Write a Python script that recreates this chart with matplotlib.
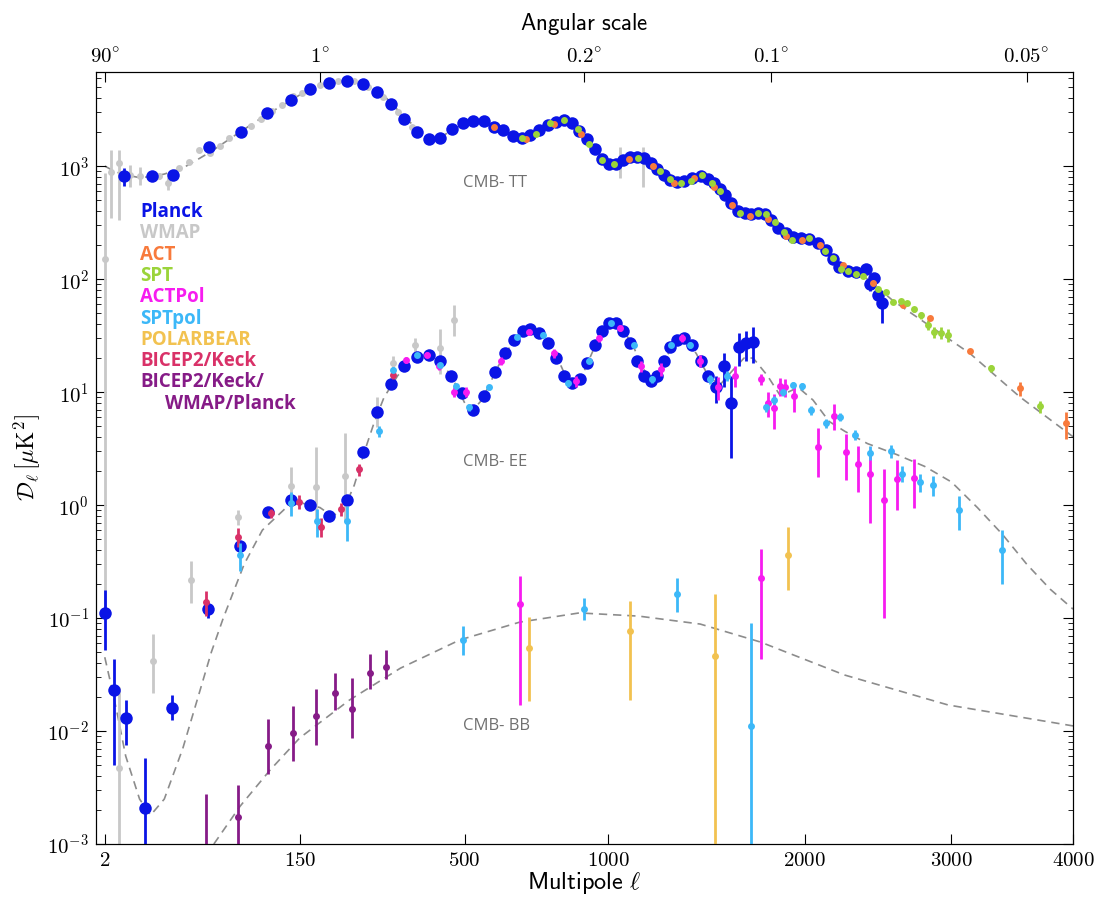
import numpy as np
import matplotlib.pyplot as plt

plt.rcParams['mathtext.fontset'] = 'cm'

# ---------------- data (multipole l, D_l in muK^2) ----------------
# TT
model_tt_l = [2, 3, 5, 10, 15, 20, 30, 40, 50, 70, 100, 150, 180, 220, 250, 300, 350, 400, 430, 470,
              530, 580, 650, 690, 730, 800, 850, 900, 960, 1020, 1060, 1120, 1180, 1250, 1310, 1400,
              1450, 1550, 1650, 1750, 1850, 1950, 2050, 2150, 2300, 2400, 2575, 3141, 3542, 4000]
model_tt_d = [1000, 930, 850, 790, 810, 850, 960, 1150, 1350, 1850, 2700, 4300, 5050, 5700, 5450, 4200,
              2600, 1800, 1750, 2150, 2550, 2300, 1850, 1780, 2050, 2450, 2400, 1900, 1300, 1050, 1120,
              1200, 1080, 810, 720, 800, 780, 550, 390, 380, 290, 230, 215, 170, 118, 100, 64.3, 22.0,
              9.08, 4.02]

planck_tt_l = [5.5, 14.6, 24.5, 48, 76.5, 106, 136, 165, 195, 226, 256, 285, 316, 345, 375, 405, 434, 464,
               495, 525, 556, 587, 615, 646, 677, 704, 735, 767, 795, 824, 855, 882, 913, 945, 975, 1002,
               1033, 1061, 1093, 1122, 1152, 1186, 1212, 1243, 1275, 1306, 1339, 1380, 1422, 1460, 1490,
               1520, 1549, 1581, 1617, 1653, 1690, 1725, 1764, 1802, 1840, 1890, 1929, 1979, 2025, 2080,
               2133, 2173, 2216, 2270, 2325, 2387, 2416, 2443, 2471, 2500]
planck_tt_d = [816, 816, 832, 1464, 2000, 2925, 3815, 4802, 5394, 5686, 5285, 4517, 3558, 2590, 2000, 1734,
               1758, 2125, 2387, 2517, 2500, 2227, 2070, 1854, 1769, 1869, 2083, 2306, 2466, 2553, 2387,
               2053, 1744, 1405, 1146, 1048, 1048, 1130, 1194, 1194, 1170, 1063, 935, 838, 752, 717, 737,
               778, 816, 772, 703, 630, 554, 468, 400, 381, 378, 386, 374, 333, 281, 254, 237, 229, 225,
               207, 181, 152, 128.5, 118.5, 116, 122, 90.3, 102.7, 72.2, 61]
planck_tt_dn = [146] + [0] * 71 + [12, 0, 0, 20.5]
planck_tt_up = [144] + [0] * 71 + [12, 0, 0, 0]

wmap_tt_l = [2, 3, 4.5, 7, 10, 17.7, 22, 28, 34, 41, 49, 57, 65, 87, 98, 112, 124, 140, 152, 180, 211,
             240, 267, 298, 331, 362, 1050, 1150]
wmap_tt_d = [150, 890, 1070, 832, 816, 816, 712, 966, 1085, 1386, 1311, 1503, 1758, 2275, 2590, 3070,
             3465, 4160, 4455, 5208, 5646, 5620, 5030, 4100, 3020, 2227, 1080, 1170]
wmap_tt_dn = [149.9, 544, 737, 176, 136, 50, 99, 40, 40, 40, 40, 40, 40, 0, 0, 0, 0, 0, 0, 0, 0,
              0, 0, 0, 0, 0, 300, 515]
wmap_tt_up = [720, 495, 315, 188, 174, 50, 92, 40, 40, 40, 40, 40, 40, 0, 0, 0, 0, 0, 0, 0, 0,
              0, 0, 0, 0, 0, 395, 305]

act_tt_l = [587, 689, 790, 890, 1085, 1192, 1290, 1388, 1490, 1587, 1684, 1785, 1890, 1985, 2091, 2237,
            2435, 2643, 2837, 3141, 3542, 3940]
act_tt_d = [2227, 1722, 2340, 1907, 1160, 1006, 703, 788, 648, 452, 364, 337, 240, 222, 200, 133, 91.6,
            58.5, 45.2, 22.9, 10.8, 5.28]
act_tt_err = [0] * 20 + [1.6, 1.4]

spt_tt_l = [675, 723, 775, 824, 878, 922, 975, 1025, 1127, 1225, 1275, 1327, 1376, 1427, 1478, 1524, 1627,
            1725, 1770, 1822, 1874, 1922, 2025, 2122, 2173, 2227, 2270, 2325, 2370, 2472, 2523, 2575,
            2629, 2673, 2722, 2775, 2822, 2871, 2922, 2971, 3305, 3710]
spt_tt_d = [1758, 1907, 2387, 2553, 2112, 1565, 1130, 1041, 1170, 908, 763, 703, 737, 832, 703, 604, 381,
            381, 376, 321, 262, 222, 229, 178, 152.5, 122, 118.5, 110.7, 106.4, 81.2, 76.7, 63, 64, 61.6,
            53.9, 48.1, 39.4, 33.8, 33.3, 31.9, 16.2, 7.49]
spt_tt_err = [0] * 34 + [3, 3.5, 4, 4, 4, 4, 1.2, 0.9]

# EE
model_ee_l = [2, 3, 4, 6, 10, 14, 20, 30, 40, 50, 60, 80, 100, 130, 150, 180, 200, 220, 240, 260, 280,
              300, 330, 360, 390, 410, 440, 470, 500, 520, 550, 600, 640, 690, 740, 790, 830, 860, 900,
              950, 1000, 1050, 1100, 1150, 1190, 1240, 1300, 1340, 1400, 1460, 1520, 1580, 1650, 1700,
              1780, 1850, 1900, 1960, 2050, 2150, 2250, 2400, 2600, 2800, 3000, 3200, 3400, 3600, 3800,
              4000]
model_ee_d = [0.045, 0.025, 0.015, 0.006, 0.0025, 0.0018, 0.0025, 0.007, 0.02, 0.05, 0.1, 0.3, 0.6,
              0.95, 1.05, 0.95, 0.8, 0.9, 1.5, 3.0, 5.5, 9.0, 14, 18.5, 21, 21.5, 18, 12.5, 8.0, 6.8, 8.5,
              17, 26, 35, 33, 23, 14, 11.5, 15, 27, 40, 38, 27, 16, 13, 18, 29, 30, 22, 14, 11.5, 15, 20,
              20, 14, 9.5, 10, 11, 8.5, 5.5, 4.5, 3.5, 2.8, 2.2, 1.6, 0.95, 0.55, 0.3, 0.18, 0.12]

planck_ee_l = [2, 3.5, 6, 12, 24, 47, 76, 107, 137, 165, 195, 226, 256, 286, 315, 345, 374, 405, 434, 463,
               493, 524, 556, 590, 620, 650, 680, 705, 735, 765, 795, 825, 855, 885, 915, 945, 975, 1002,
               1033, 1061, 1093, 1122, 1152, 1186, 1212, 1243, 1275, 1306, 1339, 1380, 1422, 1460, 1500,
               1540, 1580, 1620, 1660, 1700]
planck_ee_d = [0.11, 0.023, 0.013, 0.0021, 0.016, 0.12, 0.434, 0.867, 1.107, 1.0, 0.80, 1.107, 2.93, 6.61,
               11.8, 16.9, 20.3, 21.3, 18.9, 13.9, 9.86, 6.93, 9.27, 15, 22, 29, 35, 36, 33, 27, 20, 14,
               12, 13, 18, 26, 35, 41, 41, 35, 27, 19, 14, 12.5, 14, 19, 25, 29, 30, 26, 19, 14, 11, 17,
               8, 25, 27, 28]
planck_ee_dn = [0.058, 0.018, 0.0055, 0.0018, 0.0035, 0.02] + [0] * 46 + [3, 6, 5.4, 8, 8, 10]
planck_ee_up = [0.067, 0.02, 0.0057, 0.0037, 0.005, 0.02] + [0] * 46 + [3, 5, 6, 8, 8, 10]

wmap_ee_l = [4.5, 15, 35, 74, 137, 173, 222, 286, 320, 370, 433, 470]
wmap_ee_d = [0.0047, 0.0417, 0.217, 0.79, 1.47, 1.45, 1.81, 6.56, 17.9, 26.1, 24.4, 43.4]
wmap_ee_dn = [0.0046, 0.02, 0.08, 0.12, 0.45, 0.7, 1.1, 1.7, 3, 4, 10, 12]
wmap_ee_up = [0.02, 0.03, 0.1, 0.12, 0.7, 1.8, 2.5, 2.5, 3, 4, 12, 15]

bk_ee_l = [46, 74, 110, 148, 182, 216, 249, 320]
bk_ee_d = [0.14, 0.525, 0.843, 1.07, 0.643, 0.916, 2.07, 14.1]
bk_ee_err = [0.035, 0.1, 0.08, 0.15, 0.12, 0.12, 0.25, 1.0]

actpol_ee_l = [350, 400, 430, 470, 505, 610, 700, 790, 870, 960, 1050, 1140, 1230, 1330, 1420, 1510,
               1600, 1745, 1785, 1820, 1850, 1880, 1935, 2080, 2180, 2260, 2340, 2420, 2510, 2600, 2720]
actpol_ee_d = [19.3, 21.5, 17.0, 10.1, 10.1, 19, 34, 22, 12.5, 30, 37, 17, 16, 30, 19, 11, 14,
               13.0, 8.0, 7.2, 11.3, 11.0, 9.2, 3.26, 6.2, 2.96, 2.3, 1.9, 1.1, 1.7, 1.75]
actpol_ee_err = [1.2, 1.2, 1.2, 1.0, 1.0, 1.5, 2, 2, 1.5, 2, 2.5, 2, 2, 2.5, 2.5, 2.5, 3,
                 1.5, 2.0, 2.5, 2.0, 2.0, 2.5, 1.5, 1.6, 1.3, 1.0, 1.2, 1.0, 0.8, 0.8]

sptpol_ee_l = [76, 137, 175, 226, 290, 320, 374, 434, 475, 512, 570, 660, 750, 840, 920, 1010, 1110, 1190,
               1280, 1370, 1470, 1560, 1770, 1820, 1870, 1930, 1980, 2040, 2130, 2220, 2320, 2420, 2560,
               2640, 2770, 2860, 3060, 3400]
sptpol_ee_d = [0.361, 1.047, 0.726, 0.726, 4.52, 15.7, 21.3, 17.2, 11.3, 7.36, 11, 31, 32, 12, 19, 41,
               26, 13, 26, 26, 13, 14, 7.4, 8.5, 10.1, 11.6, 11.3, 6.9, 5.3, 6.0, 4.2, 2.9, 3.0, 1.9,
               1.6, 1.5, 0.9, 0.4]
sptpol_ee_err = [0.1, 0.25, 0.2, 0.25, 0.5, 0.8, 0.8, 0.8, 0.6, 0.5, 0.6, 1, 1, 0.8, 1, 1.5, 1.2, 1, 1.2,
                 1.5, 1.2, 1.5, 0.8, 0.8, 0.8, 0.8, 0.8, 0.6, 0.5, 0.5, 0.4, 0.4, 0.4, 0.3, 0.3, 0.3, 0.3,
                 0.2]

# BB
model_bb_l = [52, 76, 109, 149, 231, 336, 486, 669, 883, 1130, 1420, 1740, 2250, 2975, 4000]
model_bb_d = [0.001, 0.00217, 0.0045, 0.0087, 0.0188, 0.036, 0.064, 0.092, 0.111, 0.104, 0.0885, 0.0614,
              0.0313, 0.017, 0.0111]

bkwp_bb_l = [46, 74, 107, 139, 174, 205, 235, 270, 304]
bkwp_bb_d = [0.0008, 0.00173, 0.00736, 0.0096, 0.0136, 0.0217, 0.0157, 0.0326, 0.0368]
bkwp_bb_dn = [0.0007, 0.0015, 0.0032, 0.0042, 0.006, 0.0065, 0.007, 0.009, 0.008]
bkwp_bb_up = [0.002, 0.0016, 0.0054, 0.0071, 0.01, 0.0108, 0.014, 0.0157, 0.015]

sptpol_bb_l = [495, 900, 1306, 1690]
sptpol_bb_d = [0.0638, 0.120, 0.163, 0.011]
sptpol_bb_dn = [0.017, 0.023, 0.049, 0.0105]
sptpol_bb_up = [0.022, 0.029, 0.063, 0.08]

actpol_bb_l = [670, 1745]
actpol_bb_d = [0.133, 0.226]
actpol_bb_dn = [0.116, 0.183]
actpol_bb_up = [0.101, 0.184]

pb_bb_l = [700, 1093, 1495, 1900]
pb_bb_d = [0.0543, 0.0768, 0.0462, 0.361]
pb_bb_dn = [0.0357, 0.058, 0.0458, 0.184]
pb_bb_up = [0.047, 0.066, 0.117, 0.28]

# colours
c_planck = '#0a14e6'
c_wmap = '#c8c8c8'
c_act = '#f87a3c'
c_spt = '#9bd43a'
c_actpol = '#f71cf0'
c_sptpol = '#3cb8f8'
c_pb = '#f2c250'
c_bk = '#d93168'
c_bkwp = '#861b87'
c_model = '#8c8c8c'

# ---------------- figure ----------------
fig = plt.figure(figsize=(11.01, 8.98), dpi=100)
ax = fig.add_axes([0.0872, 0.0601, 0.8874, 0.8597])

p = 0.45
fwd = lambda l: np.power(np.clip(l, 1e-9, None), p)
inv = lambda x: np.power(np.clip(x, 1e-9, None), 1 / p)
ax.set_xscale('function', functions=(fwd, inv))
ax.set_yscale('log')


def pts(l, d, dn, up, color, ms, z):
    ax.errorbar(l, d, yerr=[dn, up], fmt='o', color=color, ms=ms, mec=color, mew=0,
                elinewidth=2, capsize=0, zorder=z)


def sym(e):
    return e, e


for ml, md in [(model_tt_l, model_tt_d), (model_ee_l, model_ee_d), (model_bb_l, model_bb_d)]:
    ax.plot(ml, md, ls='--', dashes=(5, 3.5), color=c_model, lw=1.2, zorder=1)

pts(wmap_tt_l, wmap_tt_d, wmap_tt_dn, wmap_tt_up, c_wmap, 5, 2)
pts(wmap_ee_l, wmap_ee_d, wmap_ee_dn, wmap_ee_up, c_wmap, 5, 2)
pts(planck_tt_l, planck_tt_d, planck_tt_dn, planck_tt_up, c_planck, 9, 3)
pts(planck_ee_l, planck_ee_d, planck_ee_dn, planck_ee_up, c_planck, 9, 3)
pts(act_tt_l, act_tt_d, *sym(act_tt_err), c_act, 5, 4)
pts(spt_tt_l, spt_tt_d, *sym(spt_tt_err), c_spt, 5, 4)
pts(bk_ee_l, bk_ee_d, *sym(bk_ee_err), c_bk, 5, 4)
pts(actpol_ee_l, actpol_ee_d, *sym(actpol_ee_err), c_actpol, 5, 4)
pts(sptpol_ee_l, sptpol_ee_d, *sym(sptpol_ee_err), c_sptpol, 5, 4)
pts(bkwp_bb_l, bkwp_bb_d, bkwp_bb_dn, bkwp_bb_up, c_bkwp, 5, 4)
pts(sptpol_bb_l, sptpol_bb_d, sptpol_bb_dn, sptpol_bb_up, c_sptpol, 5, 4)
pts(actpol_bb_l, actpol_bb_d, actpol_bb_dn, actpol_bb_up, c_actpol, 5, 4)
pts(pb_bb_l, pb_bb_d, pb_bb_dn, pb_bb_up, c_pb, 5, 4)

ax.set_xlim(1.0, 4000)
ax.set_ylim(1e-3, 6800)

xt = [2, 150, 500, 1000, 2000, 3000, 4000]
ax.set_xticks(xt)
ax.set_xticklabels([r'$\mathsf{%d}$' % v for v in xt], fontsize=15)
ax.xaxis.set_minor_locator(plt.NullLocator())
yt = [1e-3, 1e-2, 1e-1, 1e0, 1e1, 1e2, 1e3]
ax.set_yticks(yt)
ax.set_yticklabels([r'$\mathsf{10^{%d}}$' % e for e in range(-3, 4)], fontsize=15)
ax.tick_params(axis='both', which='both', direction='in', right=True)
ax.tick_params(which='major', length=7)
ax.tick_params(which='minor', length=3.5)
ax.tick_params(axis='x', pad=4)
ax.tick_params(axis='y', pad=5)

ax.set_xlabel(r'$\mathsf{Multipole}\ \ell$', fontsize=17.5, labelpad=0)
ax.set_ylabel(r'$\mathcal{D}_\ell\, [\mu \mathrm{K}^2]$', fontsize=17, labelpad=4)

top = ax.twiny()
top.set_xscale('function', functions=(fwd, inv))
top.set_xlim(ax.get_xlim())
ang_l = [2, 180, 900, 1800, 3600]
ang_lab = ['90', '1', '0.2', '0.1', '0.05']
top.set_xticks(ang_l)
top.set_xticklabels([r'$\mathsf{%s^{\circ}}$' % a for a in ang_lab], fontsize=15)
top.xaxis.set_minor_locator(plt.NullLocator())
top.tick_params(direction='in', length=7, pad=4)
top.set_xlabel(r'$\mathsf{Angular\ scale}$', fontsize=16.5, labelpad=12)

for txt, yy in [('CMB- TT', 183), ('CMB- EE', 462), ('CMB- BB', 726)]:
    ax.text(0.376, (844 - yy) / 772, txt, transform=ax.transAxes, color='#707070',
            fontsize=12, family='Open Sans', va='center')

legend = [('Planck', c_planck), ('WMAP', c_wmap), ('ACT', c_act), ('SPT', c_spt),
          ('ACTPol', c_actpol), ('SPTpol', c_sptpol), ('POLARBEAR', c_pb),
          ('BICEP2/Keck', c_bk), ('BICEP2/Keck/', c_bkwp)]
for i, (name, col) in enumerate(legend):
    ax.text(0.045, (844 - 212 - 21.3 * i) / 772, name, transform=ax.transAxes, color=col,
            fontsize=13.5, fontweight='bold', family='Open Sans', va='center')
ax.text(0.071, (844 - 212 - 21.3 * 9) / 772, 'WMAP/Planck', transform=ax.transAxes, color=c_bkwp,
        fontsize=13.5, fontweight='bold', family='Open Sans', va='center')

fig.savefig('out.png', dpi=100)
